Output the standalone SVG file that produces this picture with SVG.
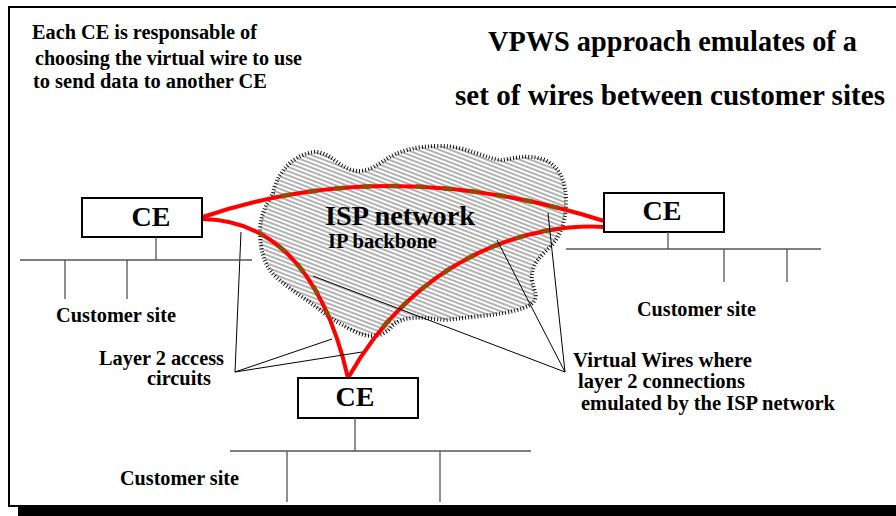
<svg xmlns="http://www.w3.org/2000/svg" width="896" height="516" viewBox="0 0 896 516">
<style>
text{font-family:"Liberation Serif","Times New Roman",serif;font-weight:bold;fill:#000}
.box{fill:#fff;stroke:#000;stroke-width:2}
.ce{font-size:28px}
.site{stroke:#555;stroke-width:1.3;fill:none}
.lbl{font-size:20px}
.ttl{font-size:29px}
.call{stroke:#000;stroke-width:1;fill:none}
.red{stroke:#ff0000;stroke-width:4;fill:none;stroke-linecap:round}
.vw{stroke:#9a4800;stroke-width:4.5;fill:none;stroke-dasharray:10 17}
</style>
<defs>
<pattern id="hatch" patternUnits="userSpaceOnUse" width="10" height="3.9" patternTransform="rotate(21)">
<line x1="0" y1="1.95" x2="10" y2="1.95" stroke="#000" stroke-width="0.6"/>
</pattern>
<clipPath id="cloudClip">
<path d="M273,193 C276,175 292,154 315,152 C330,152 336,165 352,170 C366,174 377,165 385,160 C398,151 415,146 440,146 C468,146 488,160 502,160 C516,158 528,154 545,160 C560,167 566,182 566,200 C566,218 563,232 552,245 C542,255 530,265 532,280 C534,292 540,298 530,305 C515,314 480,316 445,320 C425,318 405,314 392,326 C385,336 370,340 352,330 C338,323 330,318 320,310 C305,298 290,290 275,276 C264,265 260,250 260,232 C260,215 266,205 273,193 Z"/>
</clipPath>
</defs>
<rect x="0" y="0" width="896" height="516" fill="#fff"/>
<rect x="18" y="507" width="878" height="9" fill="#000"/>
<path d="M896,7 H9 V506 H896" fill="none" stroke="#000" stroke-width="2"/>

<g id="notes">
<text x="32" y="39" class="lbl" textLength="225" lengthAdjust="spacingAndGlyphs">Each CE is responsable of</text>
<text x="35" y="65" class="lbl" textLength="267" lengthAdjust="spacingAndGlyphs">choosing the virtual wire to use</text>
<text x="33" y="88" class="lbl" textLength="234" lengthAdjust="spacingAndGlyphs">to send data to another CE</text>
<text x="488" y="51" class="ttl" textLength="369" lengthAdjust="spacingAndGlyphs">VPWS approach emulates of a</text>
<text x="455" y="105" class="ttl" textLength="430" lengthAdjust="spacingAndGlyphs">set of wires between customer sites</text>
</g>

<g id="isp-network">
<path d="M273,193 C276,175 292,154 315,152 C330,152 336,165 352,170 C366,174 377,165 385,160 C398,151 415,146 440,146 C468,146 488,160 502,160 C516,158 528,154 545,160 C560,167 566,182 566,200 C566,218 563,232 552,245 C542,255 530,265 532,280 C534,292 540,298 530,305 C515,314 480,316 445,320 C425,318 405,314 392,326 C385,336 370,340 352,330 C338,323 330,318 320,310 C305,298 290,290 275,276 C264,265 260,250 260,232 C260,215 266,205 273,193 Z" fill="url(#hatch)" stroke="#000" stroke-width="4" stroke-dasharray="0.9 2.2"/>
<text x="325" y="225" style="font-size:28px" textLength="150" lengthAdjust="spacingAndGlyphs">ISP network</text>
<text x="328" y="248" style="font-size:20px" textLength="109" lengthAdjust="spacingAndGlyphs">IP backbone</text>
</g>

<g id="connectors">
<path class="red" d="M203,217 Q390,153 604,221"/>
<path class="red" d="M203,219 C260,220 320,255 348,378"/>
<path class="red" d="M605,227 C540,222 420,250 348,378"/>
<g clip-path="url(#cloudClip)">
<path class="vw" d="M203,217 Q390,153 604,221"/>
<path class="vw" d="M203,219 C260,220 320,255 348,378"/>
<path class="vw" d="M605,227 C540,222 420,250 348,378"/>
</g>
<path class="call" d="M241,232 L235,372 L332,339 M235,372 L362,352"/>
<path class="call" d="M313,276 L565,372 L497,240 M565,372 L548,213"/>
</g>

<g id="ce-left">
<rect x="82" y="198" width="120" height="39" class="box"/>
<text x="151" y="226" class="ce" text-anchor="middle">CE</text>
<path class="site" d="M156,237 V260 M20,260 H252 M65,260 V299 M127,260 V299"/>
<text x="56" y="322" class="lbl" textLength="120" lengthAdjust="spacingAndGlyphs">Customer site</text>
</g>

<g id="ce-right">
<rect x="604" y="193" width="120" height="39" class="box"/>
<text x="662" y="220" class="ce" text-anchor="middle">CE</text>
<path class="site" d="M668,232 V249 M566,249 H821 M724,249 V282 M787,249 V282"/>
<text x="637" y="316" class="lbl" textLength="119" lengthAdjust="spacingAndGlyphs">Customer site</text>
</g>

<g id="ce-bottom">
<rect x="298" y="378" width="120" height="40" class="box"/>
<text x="355" y="406" class="ce" text-anchor="middle">CE</text>
<path class="site" d="M355,418 V451 M230,451 H531 M287,451 V502 M440,451 V502"/>
<text x="120" y="485" class="lbl" textLength="119" lengthAdjust="spacingAndGlyphs">Customer site</text>
</g>

<g id="labels">
<text x="99" y="365" class="lbl" textLength="125" lengthAdjust="spacingAndGlyphs">Layer 2 access</text>
<text x="147" y="385" class="lbl" textLength="64" lengthAdjust="spacingAndGlyphs">circuits</text>
<text x="573" y="367" class="lbl" textLength="179" lengthAdjust="spacingAndGlyphs">Virtual Wires where</text>
<text x="578" y="388" class="lbl" textLength="167" lengthAdjust="spacingAndGlyphs">layer 2 connections</text>
<text x="581" y="410" class="lbl" textLength="254" lengthAdjust="spacingAndGlyphs">emulated by the ISP network</text>
</g>
</svg>
